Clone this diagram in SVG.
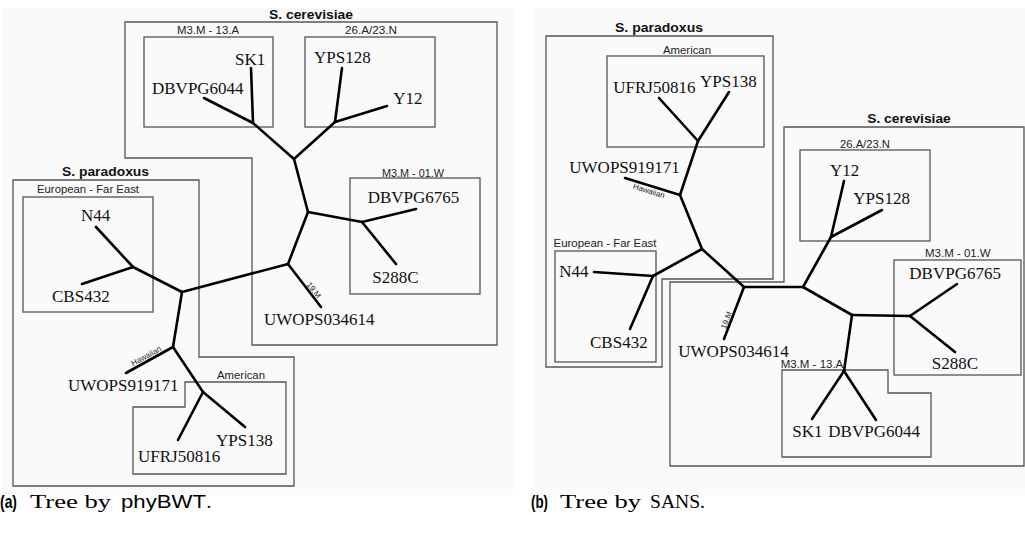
<svg xmlns="http://www.w3.org/2000/svg" width="1025" height="534" viewBox="0 0 1025 534">
<style>
.bg{fill:#fafafa;stroke:none}
.box{fill:none;stroke:#555;stroke-width:1.3}
.edge{stroke:#000;stroke-width:2.6;stroke-linecap:round;fill:none}
.leaf{font-family:"Liberation Serif","Times New Roman",serif;font-size:17px;fill:#111}
.clade{font-family:"Liberation Sans",Arial,sans-serif;font-size:10px;fill:#222}
.title{font-family:"Liberation Sans",Arial,sans-serif;font-size:12px;font-weight:bold;fill:#111}
.tiny{font-family:"Liberation Sans",Arial,sans-serif;font-size:8px;fill:#222}
.cap{font-family:"Liberation Serif",serif;font-size:19px;fill:#000}
.capb{font-family:"Liberation Sans",sans-serif;font-size:19px;font-weight:bold;fill:#000}
.caps{font-family:"Liberation Sans",sans-serif;font-size:19px;fill:#000}
</style>
<rect width="1025" height="534" fill="#fff"/>
<rect class="bg" x="3" y="8" width="510" height="487"/>
<rect class="bg" x="534" y="8" width="491" height="487"/>

<!-- ===== Panel (a) ===== -->
<g id="a-cerevisiae">
<path class="box" d="M125,22 H497 V345 H252 V158 H125 Z"/>
<text class="title" x="269" y="19" textLength="84" lengthAdjust="spacingAndGlyphs">S. cerevisiae</text>
</g>
<g id="a-13A">
<rect class="box" x="144" y="37" width="129" height="90"/>
<text class="clade" x="177" y="34" textLength="62" lengthAdjust="spacingAndGlyphs">M3.M - 13.A</text>
</g>
<g id="a-26A">
<rect class="box" x="305" y="37" width="130" height="90"/>
<text class="clade" x="345" y="34" textLength="52" lengthAdjust="spacingAndGlyphs">26.A/23.N</text>
</g>
<g id="a-01W">
<rect class="box" x="350" y="178" width="130" height="116"/>
<text class="clade" x="382" y="176.5" textLength="62" lengthAdjust="spacingAndGlyphs">M3.M - 01.W</text>
</g>
<g id="a-paradoxus">
<path class="box" d="M13,180 H199 V357 H294 V486 H13 Z"/>
<text class="title" x="62" y="176" textLength="87" lengthAdjust="spacingAndGlyphs">S. paradoxus</text>
</g>
<g id="a-european">
<rect class="box" x="23" y="197" width="130" height="115"/>
<text class="clade" x="37" y="193" textLength="102" lengthAdjust="spacingAndGlyphs">European - Far East</text>
</g>
<g id="a-american">
<path class="box" d="M185,382 H286 V474 H133 V407 H185 Z"/>
<text class="clade" x="217" y="379.3" textLength="48" lengthAdjust="spacingAndGlyphs">American</text>
</g>

<g id="a-connectors">
<path class="edge" d="M204,98 L253,123"/>
<path class="edge" d="M251,68 L253,123"/>
<path class="edge" d="M253,123 L294,159"/>
<path class="edge" d="M294,159 L335,122"/>
<path class="edge" d="M335,122 L342,68"/>
<path class="edge" d="M335,122 L387,106"/>
<path class="edge" d="M294,159 L308,212"/>
<path class="edge" d="M308,212 L362,222"/>
<path class="edge" d="M362,222 L416,209"/>
<path class="edge" d="M362,222 L396,264"/>
<path class="edge" d="M308,212 L288,264"/>
<path class="edge" d="M288,264 L321,307"/>
<path class="edge" d="M288,264 L182,292"/>
<path class="edge" d="M182,292 L133,267"/>
<path class="edge" d="M133,267 L96,227"/>
<path class="edge" d="M133,267 L82,284"/>
<path class="edge" d="M182,292 L173,347"/>
<path class="edge" d="M173,347 L126,373"/>
<path class="edge" d="M173,347 L203,392"/>
<path class="edge" d="M203,392 L178,440"/>
<path class="edge" d="M203,392 L245,427"/>
<text class="tiny" transform="translate(147.5,358.3) rotate(-28.6)" text-anchor="middle">Hawaiian</text>
<text class="tiny" transform="translate(311.6,291.8) rotate(52.6)" text-anchor="middle">19.M</text>
</g>

<g id="a-SK1"><text class="leaf" x="235" y="65">SK1</text></g>
<g id="a-DBVPG6044"><text class="leaf" x="152" y="94">DBVPG6044</text></g>
<g id="a-YPS128"><text class="leaf" x="314" y="63.3">YPS128</text></g>
<g id="a-Y12"><text class="leaf" x="393.3" y="104.3">Y12</text></g>
<g id="a-DBVPG6765"><text class="leaf" x="367.7" y="203.3">DBVPG6765</text></g>
<g id="a-S288C"><text class="leaf" x="372.3" y="282.7">S288C</text></g>
<g id="a-UWOPS034614"><text class="leaf" x="264" y="325">UWOPS034614</text></g>
<g id="a-N44"><text class="leaf" x="81" y="221">N44</text></g>
<g id="a-CBS432"><text class="leaf" x="52" y="301.7">CBS432</text></g>
<g id="a-UWOPS919171"><text class="leaf" x="68" y="390.7">UWOPS919171</text></g>
<g id="a-YPS138"><text class="leaf" x="216" y="445.7">YPS138</text></g>
<g id="a-UFRJ50816"><text class="leaf" x="138" y="462.3">UFRJ50816</text></g>

<!-- ===== Panel (b) ===== -->
<g id="b-paradoxus">
<path class="box" d="M546,36 H773 V279 H662 V367 H546 Z"/>
<text class="title" x="615" y="31.7" textLength="88" lengthAdjust="spacingAndGlyphs">S. paradoxus</text>
</g>
<g id="b-american">
<rect class="box" x="607" y="56" width="157" height="91"/>
<text class="clade" x="663" y="54" textLength="48" lengthAdjust="spacingAndGlyphs">American</text>
</g>
<g id="b-european">
<rect class="box" x="555" y="251" width="101" height="111"/>
<text class="clade" x="553.5" y="247.3" textLength="103" lengthAdjust="spacingAndGlyphs">European - Far East</text>
</g>
<g id="b-cerevisiae">
<path class="box" d="M784,127 H1024 V466 H670 V282 H784 Z"/>
<text class="title" x="867.3" y="123.3" textLength="83.4" lengthAdjust="spacingAndGlyphs">S. cerevisiae</text>
</g>
<g id="b-26A">
<rect class="box" x="800" y="150" width="130" height="91"/>
<text class="clade" x="840" y="147.7" textLength="50" lengthAdjust="spacingAndGlyphs">26.A/23.N</text>
</g>
<g id="b-01W">
<rect class="box" x="894" y="260" width="127" height="115"/>
<text class="clade" x="925" y="256.7" textLength="65.7" lengthAdjust="spacingAndGlyphs">M3.M - 01.W</text>
</g>
<g id="b-13A">
<path class="box" d="M782,370 H888 V393 H931 V457 H782 Z"/>
<text class="clade" x="780.7" y="367.7" textLength="62.6" lengthAdjust="spacingAndGlyphs">M3.M - 13.A</text>
</g>

<g id="b-connectors">
<path class="edge" d="M659,98 L698,141"/>
<path class="edge" d="M729,92 L698,141"/>
<path class="edge" d="M698,141 L680,195"/>
<path class="edge" d="M680,195 L625,178"/>
<path class="edge" d="M680,195 L702,249"/>
<path class="edge" d="M702,249 L653,276"/>
<path class="edge" d="M653,276 L594,272"/>
<path class="edge" d="M653,276 L630,329"/>
<path class="edge" d="M702,249 L744,287"/>
<path class="edge" d="M744,287 L724,339"/>
<path class="edge" d="M744,287 L803,287"/>
<path class="edge" d="M803,287 L831,237"/>
<path class="edge" d="M831,237 L844,181"/>
<path class="edge" d="M831,237 L882,210"/>
<path class="edge" d="M803,287 L852,315"/>
<path class="edge" d="M852,315 L910,316"/>
<path class="edge" d="M910,316 L957,284"/>
<path class="edge" d="M910,316 L955,352"/>
<path class="edge" d="M852,315 L844,371"/>
<path class="edge" d="M844,371 L812,419"/>
<path class="edge" d="M844,371 L876,420"/>
<text class="tiny" transform="translate(648.1,193.4) rotate(17.5)" text-anchor="middle">Hawaiian</text>
<text class="tiny" transform="translate(729,321.1) rotate(-69.1)" text-anchor="middle">19.M</text>
</g>

<g id="b-UFRJ50816"><text class="leaf" x="613.3" y="93.3">UFRJ50816</text></g>
<g id="b-YPS138"><text class="leaf" x="700" y="87.3">YPS138</text></g>
<g id="b-UWOPS919171"><text class="leaf" x="569.3" y="172.7">UWOPS919171</text></g>
<g id="b-N44"><text class="leaf" x="559.3" y="276.7">N44</text></g>
<g id="b-CBS432"><text class="leaf" x="590" y="348.3">CBS432</text></g>
<g id="b-UWOPS034614"><text class="leaf" x="678.3" y="356.7">UWOPS034614</text></g>
<g id="b-Y12"><text class="leaf" x="830" y="175.7">Y12</text></g>
<g id="b-YPS128"><text class="leaf" x="853.3" y="204.3">YPS128</text></g>
<g id="b-DBVPG6765"><text class="leaf" x="909.3" y="279">DBVPG6765</text></g>
<g id="b-S288C"><text class="leaf" x="931.7" y="369.3">S288C</text></g>
<g id="b-SK1"><text class="leaf" x="792.3" y="437.3">SK1</text></g>
<g id="b-DBVPG6044"><text class="leaf" x="828.3" y="437.3">DBVPG6044</text></g>

<!-- captions -->
<g id="caption-a">
<text class="capb" x="0" y="508" textLength="17" lengthAdjust="spacingAndGlyphs">(a)</text>
<text class="cap" x="30" y="508" textLength="81" lengthAdjust="spacingAndGlyphs">Tree by</text>
<text class="caps" x="121" y="508" textLength="85" lengthAdjust="spacingAndGlyphs">phyBWT</text>
<text class="cap" x="206.5" y="508">.</text>
</g>
<g id="caption-b">
<text class="capb" x="531" y="508" textLength="17" lengthAdjust="spacingAndGlyphs">(b)</text>
<text class="cap" x="560" y="508" textLength="81" lengthAdjust="spacingAndGlyphs">Tree by</text>
<text class="cap" x="650" y="508" textLength="55" lengthAdjust="spacingAndGlyphs">SANS.</text>
</g>
</svg>
